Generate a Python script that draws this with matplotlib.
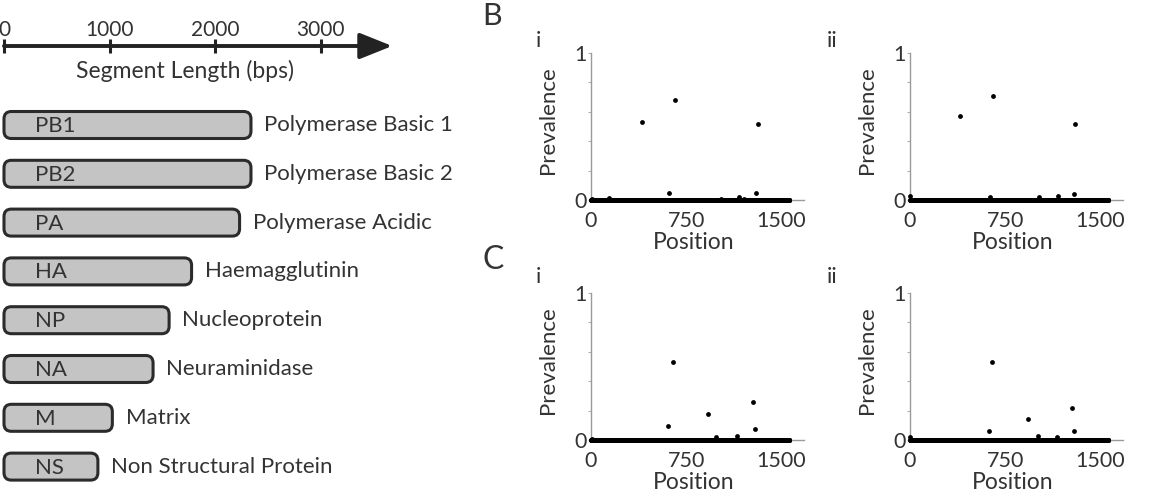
import numpy as np
import matplotlib
matplotlib.use('Agg')
import matplotlib.pyplot as plt
from matplotlib.patches import FancyBboxPatch

plt.rcParams['font.family'] = ['Lato', 'DejaVu Sans']

# Panel A: influenza segments
segments = ['PB1', 'PB2', 'PA', 'HA', 'NP', 'NA', 'M', 'NS']
seg_names = ['Polymerase Basic 1', 'Polymerase Basic 2', 'Polymerase Acidic',
             'Haemagglutinin', 'Nucleoprotein', 'Neuraminidase', 'Matrix',
             'Non Structural Protein']
seg_lengths = [2341, 2341, 2233, 1778, 1565, 1413, 1027, 890]
length_ticks = [0, 1000, 2000, 3000]

# Panels B/C: prevalence per position (every site is 0 except these)
n_sites = 1565
bi_pos = [400, 660, 1315, 615, 1303, 142, 1023, 1168, 1210, 5]
bi_prev = [0.53, 0.68, 0.52, 0.05, 0.045, 0.015, 0.01, 0.02, 0.01, 0.01]
bii_pos = [395, 655, 1302, 631, 1018, 1168, 1294, 3]
bii_prev = [0.57, 0.71, 0.52, 0.02, 0.02, 0.025, 0.04, 0.03]
ci_pos = [650, 610, 925, 1280, 1295, 988, 1152, 5]
ci_prev = [0.53, 0.095, 0.18, 0.26, 0.075, 0.02, 0.03, 0.01]
cii_pos = [650, 625, 930, 1280, 1295, 1010, 1160, 3]
cii_prev = [0.53, 0.06, 0.145, 0.22, 0.06, 0.025, 0.02, 0.02]
pos_ticks = [0, 750, 1500]

W, H = 1150, 498
txt = '#333333'
fig = plt.figure(figsize=(W / 100, H / 100), dpi=100)

# ---- panel A ----
px_per_bp = 0.1055
x0 = 4
axA = fig.add_axes([0, 0, 460 / W, 1])
axA.set_xlim(-x0 / px_per_bp, (460 - x0) / px_per_bp)
axA.set_ylim(H, 0)
axA.axis('off')

axis_y = 46
axA.annotate('', xy=(3680, axis_y), xytext=(0, axis_y),
             arrowprops=dict(arrowstyle='-|>,head_length=1.0,head_width=0.4',
                             mutation_scale=20, lw=2.8, color='#222222',
                             shrinkA=0, shrinkB=0))
for t in length_ticks:
    axA.plot([t, t], [39, 53], color='#222222', lw=2.2, solid_capstyle='butt')
    axA.text(t, 30, str(t), ha='center', va='center', fontsize=15, color=txt)
axA.text(1720, 71, 'Segment Length (bps)', ha='center', va='center',
         fontsize=16.5, color=txt)

bar_h = 27
for i, (seg, name, L) in enumerate(zip(segments, seg_names, seg_lengths)):
    yc = 125 + i * 48.8
    box = FancyBboxPatch((0, yc - bar_h / 2), L, bar_h,
                         boxstyle='round,pad=0,rounding_size=70',
                         mutation_aspect=px_per_bp,
                         fc='#c4c4c4', ec='#2b2b2b', lw=2.2)
    axA.add_patch(box)
    axA.text(295, yc + 1, seg, ha='left', va='center', fontsize=16, color=txt)
    axA.text(L + 125, yc, name, ha='left', va='center', fontsize=16, color=txt)


# ---- panels B and C ----
def prevalence_panel(left, top, pos, prev):
    ax = fig.add_axes([left / W, (H - top - 147) / H, 213 / W, 147 / H])
    sites = np.arange(1, n_sites + 1)
    values = np.zeros(n_sites)
    values[np.array(pos) - 1] = prev
    ax.scatter(sites, values, s=12, color='black', lw=0, clip_on=False, zorder=3)
    ax.set_xlim(0, 1680)
    ax.set_ylim(0, 1)
    for s in ['top', 'right']:
        ax.spines[s].set_visible(False)
    for s in ['left', 'bottom']:
        ax.spines[s].set_color('#9a9a9a')
        ax.spines[s].set_linewidth(1)
    ax.set_xticks(pos_ticks)
    ax.set_xticklabels([str(t) for t in pos_ticks])
    ax.set_yticks([0, 0.2, 0.4, 0.6, 0.8, 1])
    ax.set_yticklabels(['0', '', '', '', '', '1'])
    ax.tick_params(axis='x', length=0, pad=8, labelsize=15.5, labelcolor=txt)
    ax.tick_params(axis='y', length=2.5, width=0.8, color='#b0b0b0', pad=0.5,
                   labelsize=15.5, labelcolor=txt)
    ax.set_ylabel('Prevalence', fontsize=16, color=txt)
    ax.yaxis.set_label_coords(-0.155, 0.54)
    ax.set_xlabel('Position', fontsize=16.5, color=txt)
    ax.xaxis.set_label_coords(0.48, -0.215)
    return ax


prevalence_panel(591, 53, bi_pos, bi_prev)
prevalence_panel(910, 53, bii_pos, bii_prev)
prevalence_panel(591, 293, ci_pos, ci_prev)
prevalence_panel(910, 293, cii_pos, cii_prev)


def fig_text(x, y, s, size):
    fig.text(x / W, 1 - y / H, s, fontsize=size, color=txt, ha='left', va='baseline')


fig_text(482, 25, 'B', 22)
fig_text(482, 269, 'C', 23)
fig_text(536, 47, 'i', 16)
fig_text(827, 47, 'ii', 16)
fig_text(536, 283, 'i', 16)
fig_text(827, 283, 'ii', 16)

fig.savefig('out.png', dpi=100)
